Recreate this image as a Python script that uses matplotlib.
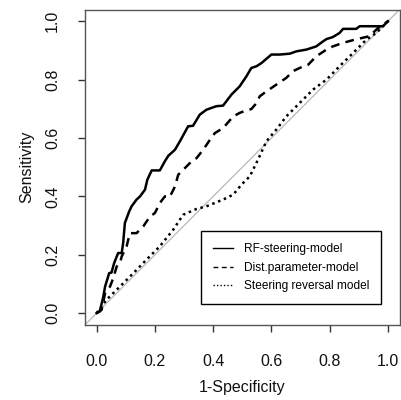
import matplotlib
matplotlib.use('Agg')
import matplotlib.pyplot as plt

plt.rcParams['font.family'] = ['Liberation Sans', 'DejaVu Sans']

# ROC curves (1-specificity, sensitivity)
rf_x = [0, 0.011, 0.023, 0.029, 0.043, 0.051, 0.06, 0.069, 0.074, 0.086, 0.091, 0.097,
        0.112, 0.12, 0.137, 0.149, 0.166, 0.174, 0.189, 0.217, 0.234, 0.246, 0.269, 0.286,
        0.314, 0.331, 0.354, 0.377, 0.411, 0.434, 0.463, 0.491, 0.514, 0.531, 0.549, 0.566,
        0.6, 0.629, 0.663, 0.686, 0.72, 0.754, 0.777, 0.789, 0.811, 0.834, 0.846, 0.891,
        0.903, 0.983, 1.0]
rf_y = [0, 0.006, 0.057, 0.091, 0.137, 0.139, 0.171, 0.194, 0.206, 0.206, 0.24, 0.309,
        0.349, 0.366, 0.389, 0.4, 0.423, 0.457, 0.489, 0.489, 0.52, 0.539, 0.56, 0.589,
        0.64, 0.642, 0.68, 0.697, 0.709, 0.711, 0.749, 0.777, 0.811, 0.84, 0.846, 0.857,
        0.886, 0.886, 0.889, 0.897, 0.903, 0.914, 0.931, 0.939, 0.946, 0.96, 0.974, 0.974,
        0.983, 0.983, 1.0]

dist_x = [0, 0.017, 0.029, 0.046, 0.057, 0.069, 0.08, 0.086, 0.103, 0.114, 0.137, 0.16,
          0.183, 0.2, 0.217, 0.234, 0.251, 0.269, 0.28, 0.303, 0.32, 0.343, 0.366, 0.389,
          0.406, 0.434, 0.469, 0.491, 0.514, 0.531, 0.549, 0.56, 0.583, 0.617, 0.651, 0.674,
          0.697, 0.726, 0.754, 0.789, 0.811, 0.846, 0.886, 0.937, 0.966, 1.0]
dist_y = [0, 0.011, 0.069, 0.091, 0.12, 0.16, 0.171, 0.194, 0.229, 0.274, 0.274, 0.297,
          0.331, 0.343, 0.377, 0.4, 0.398, 0.434, 0.474, 0.497, 0.514, 0.531, 0.56, 0.594,
          0.617, 0.634, 0.674, 0.686, 0.695, 0.699, 0.72, 0.743, 0.76, 0.783, 0.806, 0.829,
          0.84, 0.851, 0.88, 0.903, 0.914, 0.926, 0.937, 0.949, 0.977, 1.0]

rev_x = [0, 0.034, 0.08, 0.126, 0.171, 0.217, 0.263, 0.297, 0.343, 0.377, 0.434, 0.469,
         0.497, 0.526, 0.554, 0.583, 0.617, 0.651, 0.697, 0.743, 0.789, 0.834, 0.88, 0.926,
         0.96, 1.0]
rev_y = [0, 0.046, 0.091, 0.137, 0.183, 0.229, 0.286, 0.337, 0.357, 0.366, 0.389, 0.406,
         0.44, 0.469, 0.526, 0.589, 0.629, 0.674, 0.72, 0.766, 0.8, 0.846, 0.891, 0.937,
         0.96, 1.0]

labels = ['RF-steering-model', 'Dist.parameter-model', 'Steering reversal model']
ticks = [0.0, 0.2, 0.4, 0.6, 0.8, 1.0]

fig = plt.figure(figsize=(4.02, 4.0), dpi=100)
ax = fig.add_axes([0.2114, 0.188, 0.7826, 0.788])

ax.plot([-0.1, 1.1], [-0.1, 1.1], color='#bebebe', lw=1)
ax.plot(rf_x, rf_y, color='black', lw=1.8, ls='-', label=labels[0])
ax.plot(dist_x, dist_y, color='black', lw=1.8, ls=(0, (3.5, 2.5)), label=labels[1])
ax.plot(rev_x, rev_y, color='black', lw=1.8, ls=(0, (1, 1.5)), label=labels[2])

ax.set_xlim(-0.04, 1.04)
ax.set_ylim(-0.04, 1.04)
ax.set_xticks(ticks)
ax.set_yticks(ticks)
ax.set_xticklabels(['%.1f' % t for t in ticks])
ax.set_yticklabels(['%.1f' % t for t in ticks], rotation=90, va='center')
ax.tick_params(length=5, width=1, labelsize=11.5, color='#333333', labelcolor='#111111')
ax.tick_params(axis='x', pad=16)
ax.tick_params(axis='y', pad=13)
for s in ax.spines.values():
    s.set_color('#555555')
    s.set_linewidth(1)

ax.set_xlabel('1-Specificity', fontsize=11.5, labelpad=8, color='#111111')
ax.set_ylabel('Sensitivity', fontsize=11.5, labelpad=8, color='#111111')

leg = ax.legend(loc='lower right', bbox_to_anchor=(0.941, 0.066), fontsize=8.6,
                frameon=True, fancybox=False, edgecolor='black', framealpha=1,
                handlelength=1.65, borderpad=1.0, labelspacing=0.53, handletextpad=0.9,
                borderaxespad=0)
leg.get_frame().set_linewidth(1)
for h in leg.get_lines():
    h.set_linewidth(1)

fig.savefig('out.png', dpi=100)
